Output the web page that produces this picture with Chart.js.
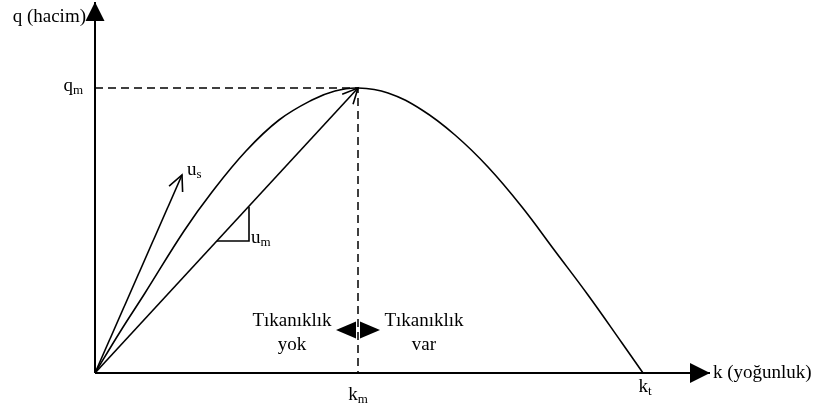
<!DOCTYPE html>
<html>
<head>
<meta charset="utf-8">
<script src="https://cdn.jsdelivr.net/npm/chart.js@4/dist/chart.umd.min.js"></script>
<style>
  html, body { margin: 0; padding: 0; background: #fff; }
  canvas { display: block; }
</style>
</head>
<body>
<canvas id="chart" width="819" height="413"></canvas>
<script>
  // values (k = yoğunluk, q = hacim), arbitrary units
  const curveK = [0, 25, 50, 89, 117, 151, 184, 217, 240, 263, 293, 327, 360, 393, 427, 460, 493, 527, 548];
  const curveQ = [0, 41, 80, 142, 181, 222, 253, 273, 282, 285, 280, 263, 238, 206, 166, 122, 78, 30, 0];
  const km = 263;
  const qm = 285;
  const kt = 548;
  const kMax = 615;
  const qMax = 371;
  const usK = [0, 87];
  const usQ = [0, 198];
  const umK = [122, 154, 154];
  const umQ = [132, 132, 166];
  const splitQ = 43;

  const FONT = '"Liberation Serif", "Times New Roman", serif';

  function pts(ks, qs) {
    return ks.map((k, i) => ({ x: k, y: qs[i] }));
  }

  function line(data, extra) {
    return Object.assign({
      data: data,
      borderColor: "#000",
      borderWidth: 1.6,
      pointRadius: 0,
      fill: false,
      clip: false,
      tension: 0
    }, extra || {});
  }

  function openHead(ctx, x0, y0, x1, y1, len) {
    const a = Math.atan2(y1 - y0, x1 - x0);
    ctx.beginPath();
    ctx.moveTo(x1 - len * Math.cos(a - 0.45), y1 - len * Math.sin(a - 0.45));
    ctx.lineTo(x1, y1);
    ctx.lineTo(x1 - len * Math.cos(a + 0.45), y1 - len * Math.sin(a + 0.45));
    ctx.stroke();
  }

  function solidHead(ctx, x0, y0, x1, y1, len, half) {
    const a = Math.atan2(y1 - y0, x1 - x0);
    const bx = x1 - len * Math.cos(a), by = y1 - len * Math.sin(a);
    ctx.beginPath();
    ctx.moveTo(x1, y1);
    ctx.lineTo(bx + half * Math.sin(a), by - half * Math.cos(a));
    ctx.lineTo(bx - half * Math.sin(a), by + half * Math.cos(a));
    ctx.closePath();
    ctx.fill();
  }

  function subText(ctx, base, sub, x, y, align) {
    ctx.font = "19px " + FONT;
    const w1 = ctx.measureText(base).width;
    ctx.font = "13px " + FONT;
    const w2 = ctx.measureText(sub).width;
    let left = x;
    if (align === "center") left = x - (w1 + w2) / 2;
    if (align === "right") left = x - (w1 + w2);
    ctx.textAlign = "left";
    ctx.textBaseline = "middle";
    ctx.font = "19px " + FONT;
    ctx.fillText(base, left, y);
    ctx.font = "13px " + FONT;
    ctx.fillText(sub, left + w1, y + 5);
  }

  const decor = {
    id: "decor",
    afterDatasetsDraw(chart) {
      const ctx = chart.ctx;
      const sx = chart.scales.x, sy = chart.scales.y;
      const X = v => sx.getPixelForValue(v);
      const Y = v => sy.getPixelForValue(v);
      ctx.save();
      ctx.strokeStyle = "#000";
      ctx.fillStyle = "#000";
      ctx.lineWidth = 1.6;

      // axis arrows
      solidHead(ctx, X(0), Y(0), X(0), Y(qMax), 19, 9.5);
      solidHead(ctx, X(0), Y(0), X(kMax), Y(0), 20, 10);

      // open heads on u_s and chord
      openHead(ctx, X(usK[0]), Y(usQ[0]), X(usK[1]), Y(usQ[1]), 17);
      openHead(ctx, X(0), Y(0), X(km), Y(qm), 17);

      // congestion split arrows
      const cx = X(km), cy = Y(splitQ);
      solidHead(ctx, cx - 1, cy, cx - 22, cy, 20, 8.5);
      solidHead(ctx, cx + 1, cy, cx + 22, cy, 20, 8.5);

      // texts
      ctx.textBaseline = "middle";
      ctx.font = "19px " + FONT;
      ctx.textAlign = "right";
      ctx.fillText("q (hacim)", X(0) - 9, 17);
      ctx.textAlign = "left";
      ctx.fillText("k (yoğunluk)", X(kMax) + 3, Y(0));

      ctx.textAlign = "center";
      ctx.fillText("Tıkanıklık", cx - 66, cy - 9);
      ctx.fillText("yok", cx - 66, cy + 15);
      ctx.fillText("Tıkanıklık", cx + 66, cy - 9);
      ctx.fillText("var", cx + 66, cy + 15);

      subText(ctx, "q", "m", X(0) - 12, Y(qm) - 2, "right");
      subText(ctx, "k", "m", X(km), Y(0) + 22, "center");
      subText(ctx, "k", "t", X(kt) + 2, Y(0) + 14, "center");
      subText(ctx, "u", "s", X(usK[1]) + 5, Y(usQ[1]) - 5, "left");
      subText(ctx, "u", "m", X(umK[2]) + 2, Y(umQ[0]) - 3, "left");
      ctx.restore();
    }
  };

  new Chart(document.getElementById("chart"), {
    type: "line",
    data: {
      datasets: [
        line(pts(curveK, curveQ), { tension: 0.4 }),
        line(pts([0, km], [0, qm])),
        line(pts(usK, usQ)),
        line(pts(umK, umQ)),
        line(pts([0, km, km], [qm, qm, 0]), { borderDash: [8, 5], borderWidth: 1.5 }),
        line(pts([0, kMax], [0, 0]), { borderWidth: 2 }),
        line(pts([0, 0], [0, qMax]), { borderWidth: 2 })
      ]
    },
    options: {
      responsive: false,
      animation: false,
      events: [],
      layout: { padding: { left: 95, right: 109, top: 2, bottom: 40 } },
      plugins: { legend: { display: false }, tooltip: { enabled: false } },
      scales: {
        x: { type: "linear", min: 0, max: kMax, display: false },
        y: { type: "linear", min: 0, max: qMax, display: false }
      }
    },
    plugins: [decor]
  });
</script>
</body>
</html>
